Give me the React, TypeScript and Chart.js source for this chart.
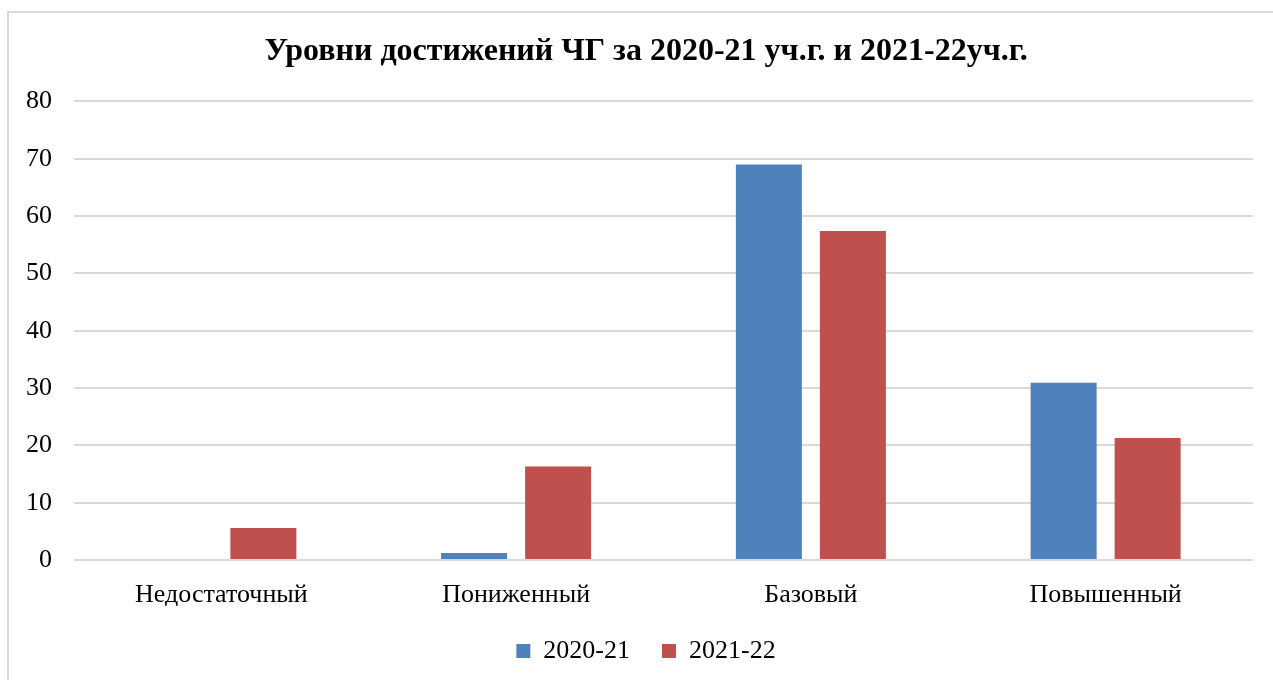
import React, { useEffect, useRef } from "react";
import { Chart, registerables } from "chart.js";

Chart.register(...registerables);

const categories = ["Недостаточный", "Пониженный", "Базовый", "Повышенный"];
const series2020 = [0, 1.2, 69.0, 30.9];
const series2021 = [5.6, 16.3, 57.4, 21.3];
const seriesLabels = ["2020-21", "2021-22"];
const titleText = "Уровни достижений ЧГ за 2020-21 уч.г. и 2021-22уч.г.";

const FONT = "'Liberation Serif', 'Times New Roman', serif";

export default function App() {
  const ref = useRef<HTMLCanvasElement | null>(null);

  useEffect(() => {
    document.body.style.margin = "0";
    document.body.style.overflow = "hidden";
    const ctx = ref.current!;
    const chart = new Chart(ctx, {
      type: "bar",
      data: {
        labels: categories,
        datasets: [
          {
            label: seriesLabels[0],
            data: series2020,
            backgroundColor: "#4F81BD",
            categoryPercentage: 0.57,
            barPercentage: 0.786,
          },
          {
            label: seriesLabels[1],
            data: series2021,
            backgroundColor: "#C0504D",
            categoryPercentage: 0.57,
            barPercentage: 0.786,
          },
        ],
      },
      options: {
        animation: false,
        responsive: false,
        maintainAspectRatio: false,
        layout: { padding: { top: 0, bottom: 6, left: 0, right: 0 } },
        plugins: {
          title: {
            display: true,
            text: titleText,
            color: "#000",
            font: { family: FONT, size: 32, weight: "bold" },
            padding: { top: 33, bottom: 30 },
          },
          legend: {
            position: "bottom",
            labels: {
              color: "#000",
              font: { family: FONT, size: 26 },
              boxWidth: 14,
              boxHeight: 14,
              padding: 32,
            },
          },
          tooltip: { enabled: false },
        },
        scales: {
          x: {
            afterFit: (scale: any) => {
              scale.height = 46;
            },
            grid: { display: false, drawTicks: false },
            border: { display: false },
            ticks: {
              color: "#000",
              font: { family: FONT, size: 26 },
              padding: 20,
            },
          },
          y: {
            position: "left",
            min: 0,
            max: 80,
            afterFit: (scale: any) => {
              scale.width = 74;
            },
            grid: { color: "#d9d9d9", lineWidth: 2, drawTicks: false },
            border: { display: false },
            ticks: {
              stepSize: 10,
              color: "#000",
              font: { family: FONT, size: 26 },
              padding: 22,
            },
          },
          yRightSpacer: {
            type: "linear",
            position: "right",
            display: true,
            afterFit: (scale: any) => {
              scale.width = 39;
            },
            grid: { display: false, drawTicks: false },
            border: { display: false },
            ticks: { display: false },
          },
        },
      },
    });
    return () => chart.destroy();
  }, []);

  return (
    <div>
      <div
        style={{
          position: "fixed",
          left: 7,
          top: 11,
          right: -3,
          bottom: -3,
          border: "2px solid #d9d9d9",
          boxSizing: "border-box",
        }}
      />
      <canvas
        ref={ref}
        width={1292}
        height={680}
        style={{ position: "fixed", left: 0, top: 0, width: 1292, height: 680 }}
      />
    </div>
  );
}
